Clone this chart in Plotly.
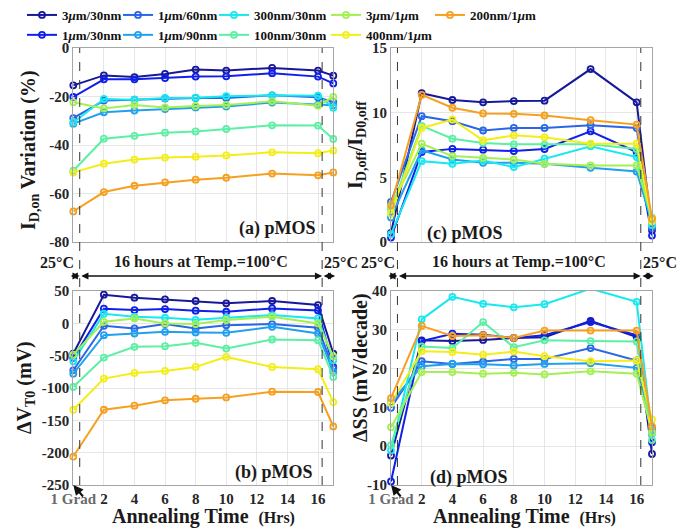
import plotly.graph_objects as go

# ---------------- data ----------------
names = ["3<i>μ</i>m/30nm", "1<i>μ</i>m/30nm", "1<i>μ</i>m/60nm", "1<i>μ</i>m/90nm",
         "300nm/30nm", "100nm/30nm", "3<i>μ</i>m/1<i>μ</i>m", "400nm/1<i>μ</i>m", "200nm/1<i>μ</i>m"]
colors = ["#18189a", "#1020e8", "#2a66e6", "#22a0f0", "#18e8f0",
          "#5cf0a4", "#a4f054", "#f4ee18", "#f6a020"]

hours = [0, 2, 4, 6, 8, 10, 13, 16, 17]
xtick_vals = [0, 2, 4, 6, 8, 10, 12, 14, 16]
xtick_text = ["<span style='color:#6a6a6a'>1 Grad</span>", "2", "4", "6", "8", "10", "12", "14", "16"]

# (a) I_D,on variation (%)
id_on = [
    [-15.4, -11.3, -12.0, -10.7, -8.9, -9.3, -8.2, -9.3, -11.4],
    [-20.2, -12.9, -12.9, -12.4, -11.8, -11.7, -10.4, -11.8, -14.6],
    [-28.9, -21.7, -21.3, -20.8, -20.6, -20.6, -19.5, -20.3, -22.3],
    [-31.2, -26.5, -25.8, -25.2, -24.5, -24.1, -22.5, -23.4, -23.6],
    [-30.7, -21.0, -21.3, -20.6, -20.5, -19.9, -19.5, -19.7, -24.6],
    [-50.6, -37.4, -36.2, -34.9, -34.4, -33.4, -31.9, -32.0, -37.5],
    [-22.4, -24.9, -23.5, -24.5, -23.9, -23.5, -22.0, -23.8, -20.2],
    [-51.3, -47.7, -46.0, -45.2, -44.8, -44.3, -43.0, -43.4, -42.3],
    [-67.4, -59.4, -56.8, -55.4, -54.3, -53.5, -51.8, -52.5, -51.3],
]
# (c) I_D,off / I_D0,off
id_off = [
    [0.7, 11.5, 10.98, 10.8, 10.9, 10.93, 13.37, 10.8, 0.9],
    [0.34, 6.96, 7.2, 7.14, 7.03, 7.19, 8.56, 6.96, 0.5],
    [3.1, 9.73, 9.34, 8.62, 8.82, 8.82, 9.03, 8.82, 1.1],
    [1.9, 7.09, 6.38, 6.12, 6.12, 6.05, 5.74, 5.45, 1.5],
    [0.6, 6.25, 6.05, 6.3, 5.79, 6.44, 7.4, 6.57, 1.3],
    [2.5, 8.98, 7.99, 7.66, 7.55, 7.53, 7.55, 7.2, 1.8],
    [2.7, 7.6, 6.64, 6.51, 6.38, 6.05, 5.92, 5.92, 1.9],
    [2.2, 8.82, 9.47, 7.86, 8.25, 8.1, 7.6, 7.6, 1.6],
    [2.85, 11.37, 10.38, 9.94, 9.91, 9.78, 9.42, 9.08, 1.8],
]
# (b) delta V_T0 (mV)
dvt = [
    [-46.7, 44.3, 39.7, 37.1, 34.5, 30.9, 34.5, 28.3, -46.7],
    [-53.4, 22.6, 20.5, 22.1, 19.5, 17.9, 23.1, 20.0, -67.4],
    [-72.6, -3.8, -7.9, -1.2, -7.9, -2.8, -1.2, -6.9, -70.0],
    [-77.8, -18.3, -15.7, -13.1, -14.1, -14.7, -5.3, -15.7, -75.2],
    [-58.6, 14.8, 10.2, 8.6, 5.5, 8.6, 12.8, 7.6, -57.0],
    [-98.4, -52.9, -36.4, -35.3, -30.2, -39.0, -25.0, -26.0, -82.9],
    [-48.3, 2.4, 7.6, -0.2, -1.2, 5.0, 10.2, -0.2, -50.9],
    [-133.6, -85.5, -76.7, -73.6, -67.4, -51.9, -67.4, -71.0, -121.7],
    [-206.0, -133.6, -127.4, -119.1, -116.6, -114.5, -105.7, -106.2, -159.5],
]
# (d) delta SS (mV/decade)
dss = [
    [-2.4, 27.3, 27.1, 27.4, 27.9, 28.1, 32.3, 28.1, -2.0],
    [-9.1, 27.1, 29.0, 28.7, 27.9, 28.6, 32.0, 28.6, 1.0],
    [9.9, 21.9, 21.2, 21.8, 22.5, 22.5, 25.3, 22.1, 4.7],
    [11.3, 20.6, 21.2, 21.1, 20.8, 21.2, 21.4, 20.2, 4.0],
    [-1.1, 32.7, 38.5, 36.7, 35.8, 36.6, 40.6, 37.2, 3.2],
    [0.3, 25.7, 25.3, 32.0, 25.5, 27.3, 27.1, 27.0, 1.6],
    [4.9, 19.1, 19.1, 18.7, 18.9, 18.5, 19.3, 18.7, 3.6],
    [11.1, 24.5, 24.3, 23.6, 24.4, 23.2, 21.9, 22.1, 6.9],
    [12.4, 31.0, 28.4, 28.6, 27.9, 29.8, 29.8, 29.8, 5.1],
]

ya_vals = [-80, -60, -40, -20, 0]
yc_vals = [0, 5, 10, 15]
yb_vals = [-250, -200, -150, -100, -50, 0, 50]
yd_vals = [-10, 0, 10, 20, 30, 40]

heat_start, heat_end = 0.42, 16.27   # dashed boundaries of the 100°C anneal

# ---------------- layout geometry ----------------
W, H = 697, 531
FONT = "Liberation Serif, Times New Roman, serif"
TXT = "#1a1a1a"
left_px = (73.3, 333.3)
right_px = (391.0, 652.0)
top_py = (48.0, 242.0)
bot_py = (291.0, 485.0)
XR = [0, 17]


def xdom(p):
    return [p[0] / W, p[1] / W]


def ydom(p):
    return [(H - p[1]) / H, (H - p[0]) / H]


def xpaper(val, p):
    return (p[0] + (val - XR[0]) / (XR[1] - XR[0]) * (p[1] - p[0])) / W


fig = go.Figure()

panels = [("x", "y", id_on), ("x2", "y2", id_off), ("x3", "y3", dvt), ("x4", "y4", dss)]
for pi, (xa, ya, data) in enumerate(panels):
    for i, (nm, col) in enumerate(zip(names, colors)):
        fig.add_trace(go.Scatter(
            x=hours, y=data[i], xaxis=xa, yaxis=ya, name=nm,
            mode="lines+markers", cliponaxis=False,
            line=dict(color=col, width=2),
            marker=dict(symbol="circle-open", size=6, color=col, line=dict(width=1.8, color=col)),
            showlegend=(pi == 0),
            legend=("legend" if i // 2 == 0 else f"legend{i // 2 + 1}"),
        ))

tickfont = dict(family=FONT, size=15, color="#262626", weight="bold")
common_x = dict(range=XR, tickvals=xtick_vals, ticktext=xtick_text, showgrid=True,
                gridcolor="#e6e6e6", gridwidth=1, showline=True, mirror=True,
                linecolor="#a6a6a6", linewidth=1, zeroline=False, ticks="",
                tickfont=tickfont, automargin=False)
common_y = dict(showgrid=True, gridcolor="#e6e6e6", gridwidth=1, showline=True, mirror=True,
                linecolor="#a6a6a6", linewidth=1, zeroline=False, ticks="",
                tickfont=tickfont, automargin=False)

fig.update_layout(
    width=W, height=H,
    margin=dict(l=0, r=0, t=0, b=0, autoexpand=False),
    plot_bgcolor="white", paper_bgcolor="white",
    font=dict(family=FONT, color=TXT),
    xaxis=dict(domain=xdom(left_px), anchor="y", showticklabels=False, **common_x),
    yaxis=dict(domain=ydom(top_py), anchor="x", range=[-80, 0], tickvals=ya_vals,
               ticktext=[str(v) for v in ya_vals], **common_y),
    xaxis2=dict(domain=xdom(right_px), anchor="y2", showticklabels=False, **common_x),
    yaxis2=dict(domain=ydom(top_py), anchor="x2", range=[0, 15], tickvals=yc_vals,
                ticktext=[str(v) for v in yc_vals], **common_y),
    xaxis3=dict(domain=xdom(left_px), anchor="y3", showticklabels=True, **common_x),
    yaxis3=dict(domain=ydom(bot_py), anchor="x3", range=[-250, 50], tickvals=yb_vals,
                ticktext=[str(v) for v in yb_vals], **common_y),
    xaxis4=dict(domain=xdom(right_px), anchor="y4", showticklabels=True, **common_x),
    yaxis4=dict(domain=ydom(bot_py), anchor="x4", range=[-10, 40], tickvals=yd_vals,
                ticktext=[str(v) for v in yd_vals], **common_y),
)

# legends: 5 columns
leg_font = dict(family=FONT, size=13, color="#111111", weight="bold")
leg_x_px = [22, 118, 214, 326, 430]
for k, lx in enumerate(leg_x_px):
    key = "legend" if k == 0 else f"legend{k + 1}"
    fig.update_layout({key: dict(x=lx / W, y=1.0, xanchor="left", yanchor="top",
                                 orientation="v", bgcolor="rgba(0,0,0,0)",
                                 font=leg_font, tracegroupgap=0, itemwidth=30)})

# dashed boundary lines spanning both rows
y_lo = (H - bot_py[1]) / H
y_hi = (H - top_py[0]) / H
for xa in ("x", "x2"):
    for xv in (heat_start, heat_end):
        fig.add_shape(type="line", xref=xa, yref="paper", x0=xv, x1=xv, y0=y_lo, y1=y_hi,
                      line=dict(color="#333333", width=1, dash="dash"))


def txt(x, y, text, font, xanchor="center", angle=0):
    return dict(xref="paper", yref="paper", x=x, y=y, text=text, showarrow=False,
                xanchor=xanchor, yanchor="middle", textangle=angle, font=font)


ann = []
lab_font = dict(family=FONT, size=16, color=TXT, weight="bold")
arrow_y = (H - 276) / H
text_y = (H - 262) / H
for p in (left_px, right_px):
    xs = xpaper(heat_start, p)
    xe = xpaper(heat_end, p)
    xl = xpaper(-0.27, p)
    xr = xpaper(17.12, p)
    for a, b in ((xl, xs), (xs, xe), (xe, xr)):
        ann.append(dict(xref="paper", yref="paper", x=b, y=arrow_y, ax=-(b - a) * W, ay=0,
                        axref="pixel", ayref="pixel", text="", showarrow=True,
                        arrowhead=2, startarrowhead=2, arrowside="end+start",
                        arrowsize=0.9, arrowwidth=1.6, arrowcolor="#111111"))
    ann.append(txt((xs + xe) / 2, text_y, "16 hours at Temp.=100°C", lab_font))
    ann.append(txt(xe, text_y, "25°C", lab_font, xanchor="left"))
ann.append(txt(xpaper(heat_start, left_px) - 0.005, text_y, "25°C", lab_font, xanchor="right"))
ann.append(txt(xpaper(heat_start, right_px), text_y, "25°C", lab_font, xanchor="right"))

# panel labels
pl_font = dict(family=FONT, size=18, color=TXT, weight="bold")
ann += [
    txt(318 / W, (H - 228) / H, "(a) pMOS", pl_font, xanchor="right"),
    txt(425 / W, (H - 233) / H, "(c) pMOS", pl_font, xanchor="left"),
    txt(315 / W, (H - 472) / H, "(b) pMOS", pl_font, xanchor="right"),
    txt(428 / W, (H - 477) / H, "(d) pMOS", pl_font, xanchor="left"),
]

# axis titles
t_font = dict(family=FONT, size=20, color=TXT, weight="bold")
xt = "Annealing Time  <span style='font-size:16px'>(Hrs)</span>"
ann += [
    txt(30 / W, (H - 150) / H, "I<sub>D,on</sub> Variation (%)", t_font, angle=-90),
    txt(357 / W, (H - 145) / H, "I<sub>D,off</sub>/I<sub>D0,off</sub>", t_font, angle=-90),
    txt(25 / W, (H - 388) / H, "ΔV<sub>T0</sub> (mV)", t_font, angle=-90),
    txt(360 / W, (H - 368) / H, "ΔSS (mV/decade)", t_font, angle=-90),
    txt(203 / W, (H - 516) / H, xt, t_font),
    txt(524 / W, (H - 516) / H, xt, t_font),
]

# "1 Grad" arrows to the corner
for xa, ya, yv in (("x3", "y3", -250), ("x4", "y4", -10)):
    ann.append(dict(xref=xa, yref=ya, x=0, y=yv, ax=11, ay=13, text="", showarrow=True,
                    arrowhead=2, arrowsize=1, arrowwidth=2, arrowcolor="#111111"))

fig.update_layout(annotations=ann)
fig.write_html("out.html")
